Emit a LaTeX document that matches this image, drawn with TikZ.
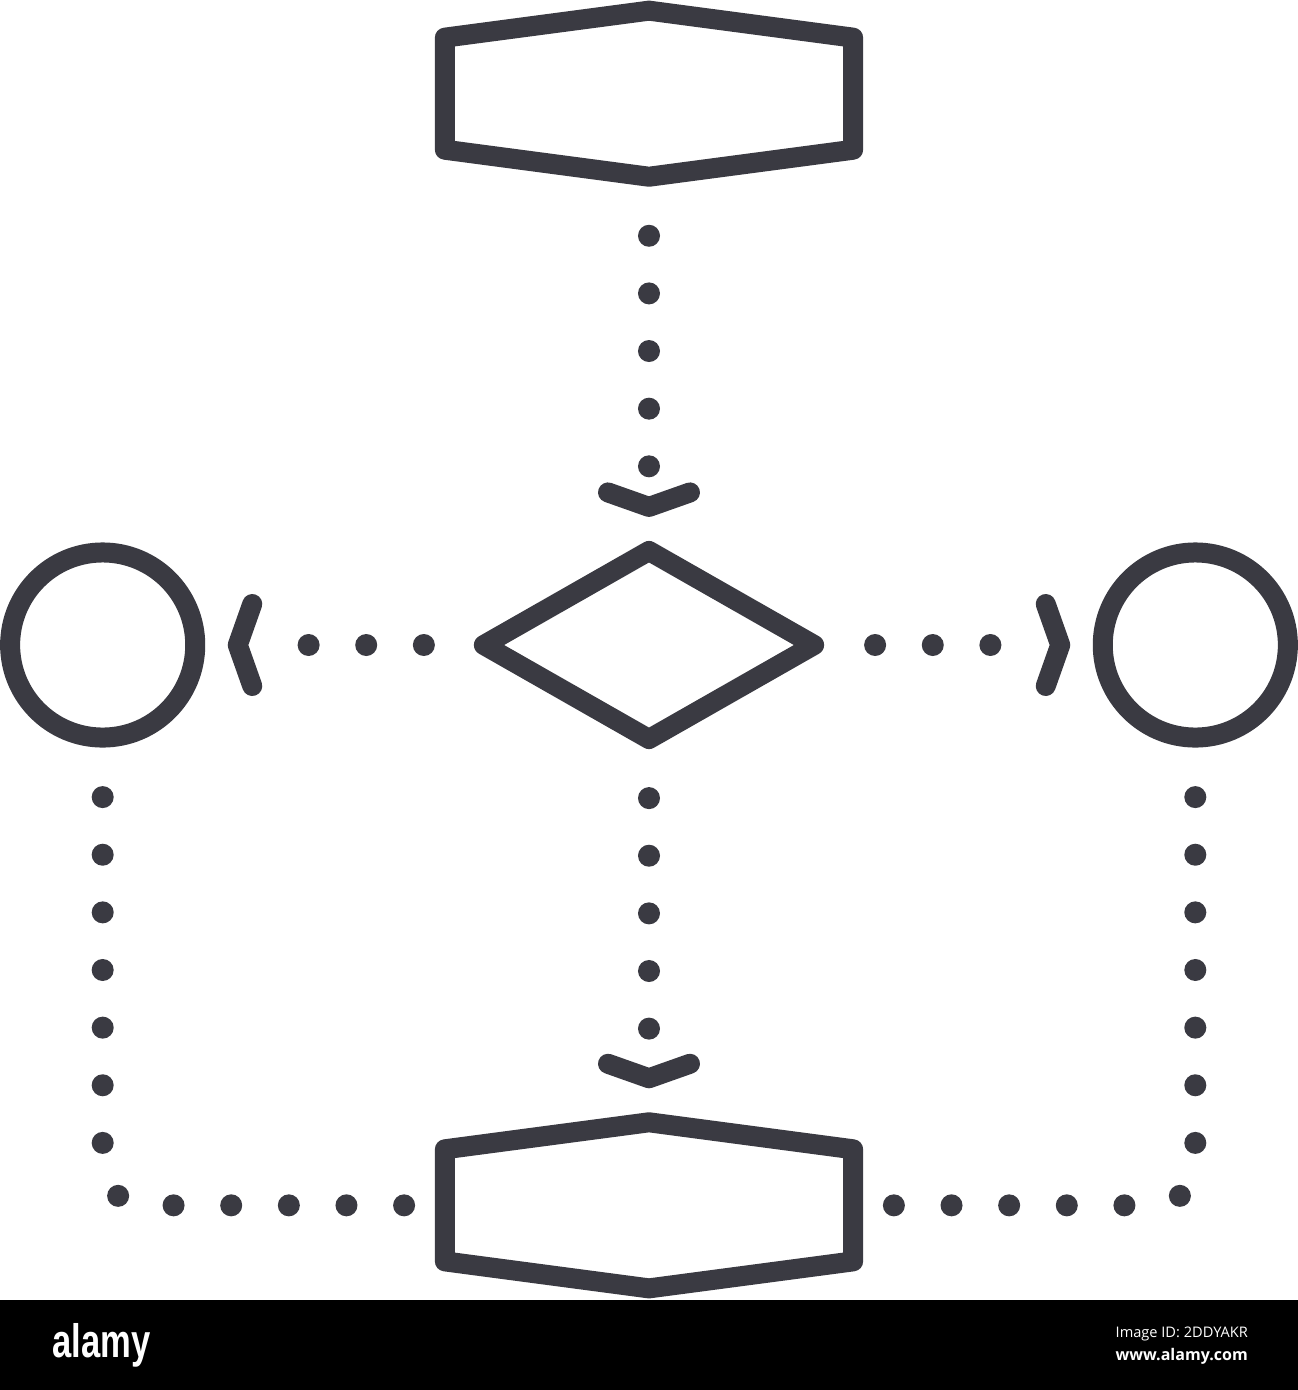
\documentclass[tikz,border=0pt]{standalone}
\usepackage{graphicx}
\usepackage{fontspec}
\usetikzlibrary{positioning,shapes.geometric}
\newfontfamily\logofont{Liberation Sans}
\newfontfamily\idfont{Open Sans}
\definecolor{icon}{RGB}{58,58,66}
\tikzset{shape node/.style={draw=icon,line width=0.2cm,line join=round,inner sep=0pt,outer sep=0pt},
	box node/.style={rectangle,minimum width=4.08cm,minimum height=1.12cm,inner sep=0pt,outer sep=0pt},
	outline/.style={draw=icon,line width=0.2cm,line cap=round,line join=round},
	dotline/.style={draw=icon,line width=0.22cm,line cap=round,dash pattern=on 0pt off 0.576cm},
	bar text/.style={anchor=base west,inner sep=0pt,text=white},
	pics/chevron/.style={code={\draw[outline] (-14.5,-41) -- (0,0) -- (-14.5,41);}},
}

\begin{document}
\begin{tikzpicture}[x=0.01cm,y=-0.01cm,node distance=2.885cm]
	\useasboundingbox (0,0) rectangle (1298,1390);
	\node[shape node,diamond,minimum width=3.3cm,minimum height=1.88cm] (decide) at (649,645){};
	\node[box node] (top)[above=4.01cm of decide]{};
	\node[box node] (bottom)[below=4.1cm of decide]{};
	\node[shape node,circle,minimum size=1.85cm] (leftc)[left=of decide]{};
	\node[shape node,circle,minimum size=1.85cm] (rightc)[right=of decide]{};
	
	\draw[outline] (top.north west) -- ([yshift=0.27cm]top.north) -- (top.north east)
	-- (top.south east) -- ([yshift=-0.27cm]top.south) -- (top.south west) -- cycle;
	\draw[outline] (bottom.north west) -- ([yshift=0.27cm]bottom.north) -- (bottom.north east)
	-- (bottom.south east) -- ([yshift=-0.27cm]bottom.south) -- (bottom.south west) -- cycle;
	
	\path[dotline]
	(top.south) edge[shorten <=0.86cm,shorten >=0.71cm] (decide.north)
	(decide.south) edge[shorten <=0.59cm,shorten >=0.99cm] (bottom.north)
	(decide.west) edge[shorten <=0.6cm,shorten >=0.845cm] (leftc.east)
	(decide.east) edge[shorten <=0.61cm,shorten >=0.825cm] (rightc.west)
	(leftc.south) edge[to path={|- (\tikztotarget)},rounded corners=0.42cm,shorten <=0.595cm,shorten >=0.3cm] (bottom.west)
	(rightc.south) edge[to path={|- (\tikztotarget)},rounded corners=0.42cm,shorten <=0.595cm,shorten >=0.3cm] (bottom.east);
	
	\pic[rotate=-90] at ([yshift=0.44cm]decide.north) {chevron};
	\pic[rotate=-90] at ([yshift=0.71cm]bottom.north) {chevron};
	\pic[rotate=180] at ([xshift=0.425cm]leftc.east) {chevron};
	\pic at ([xshift=-0.425cm]rightc.west) {chevron};
	
	\fill[black] (0,1300) rectangle (1298,1390);
	\node[bar text] (logo) at (52,1357) {\resizebox{0.98cm}{0.34cm}{\logofont\bfseries alamy}};
	\node[bar text] (imgid) at (1115,1337) {\resizebox{1.32cm}{!}{\idfont Image ID: 2DDYAKR}};
	\node[bar text] (site) at (1115,1360) {\resizebox{1.32cm}{!}{\idfont\bfseries www.alamy.com}};
\end{tikzpicture}
\end{document}
